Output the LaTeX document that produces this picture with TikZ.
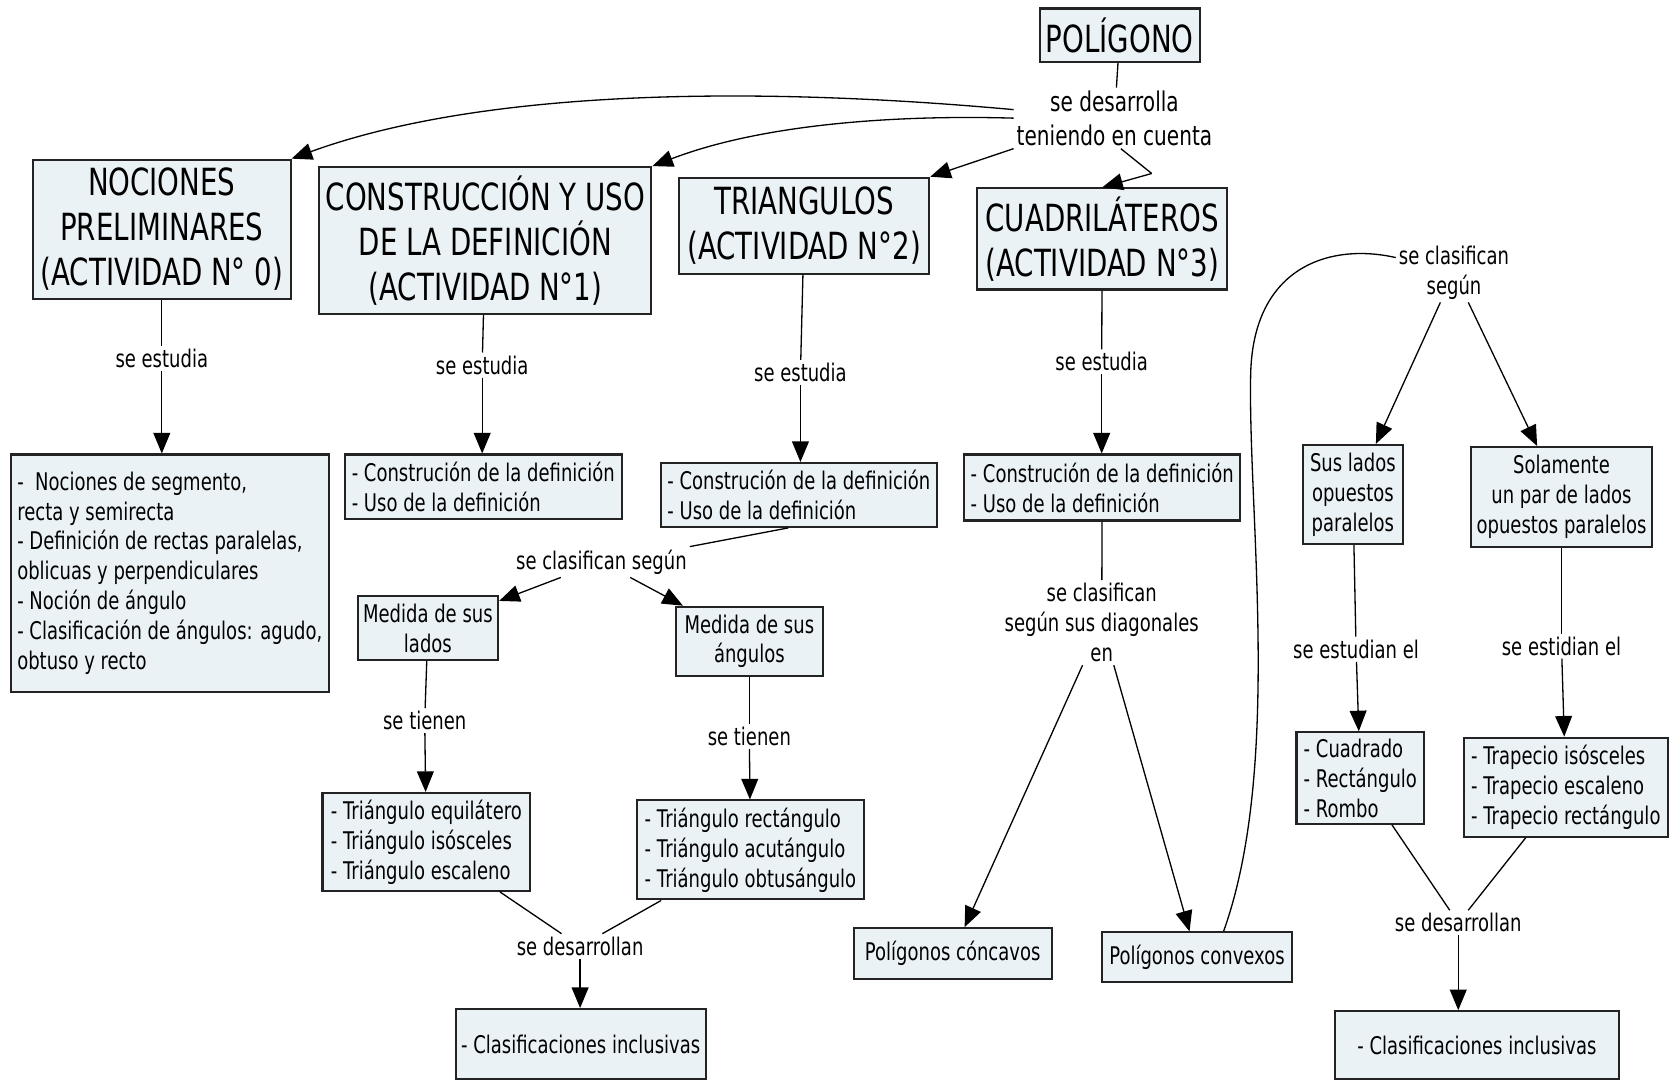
\documentclass[tikz,border=0pt]{standalone}
\usepackage{fontspec}
\setmainfont{DejaVu Sans}[FakeStretch=0.74]
\usetikzlibrary{arrows.meta,positioning,calc}
\definecolor{fondocaja}{RGB}{234,242,245}
\definecolor{borde}{RGB}{35,35,35}
\tikzset{
    caja/.style={draw=borde,fill=fondocaja,line width=1.1pt,inner sep=2pt,align=center,font=\fontsize{13}{16}\selectfont},
    cajalista/.style={caja,align=left},
    titulo/.style={caja,font=\fontsize{20}{24}\selectfont},
    enlace/.style={inner sep=1.5pt,align=center,font=\fontsize{13}{16}\selectfont},
    linea/.style={-,line width=0.7pt},
    flecha/.style={-{Triangle[length=11pt,width=9pt]},line width=0.7pt},
}

\begin{document}
\begin{tikzpicture}
        \useasboundingbox (0,0) rectangle (31.36,20.28);
% Titulo
        \node[titulo,minimum width=3cm,minimum height=1cm] (pol) at (21.04,19.62) {POLÍGONO};
        \node[enlace,font=\fontsize{14.5}{18}\selectfont] (desa) at (20.94,18.06) {se desarrolla\\teniendo en cuenta};
% --- Actividades ---
        \node[titulo,minimum width=4.84cm,minimum height=2.62cm] (noc) at (3.04,15.97) {NOCIONES\\PRELIMINARES\\(ACTIVIDAD N° 0)};
        \node[titulo,minimum width=6.24cm,minimum height=2.76cm] (con) at (9.12,15.76) {CONSTRUCCIÓN Y USO\\DE LA DEFINICIÓN\\(ACTIVIDAD N°1)};
        \node[titulo,minimum width=4.7cm,minimum height=1.8cm] (tri) at (15.11,16.04) {TRIANGULOS\\(ACTIVIDAD N°2)};
        \node[titulo,minimum width=4.7cm,minimum height=1.9cm] (cua) at (20.71,15.79) {CUADRILÁTEROS\\(ACTIVIDAD N°3)};
% se estudia
        \node[enlace] (est0) at (3.04,13.54) {se estudia};
        \node[enlace] (est1) at (9.06,13.42) {se estudia};
        \node[enlace] (est2) at (15.04,13.28) {se estudia};
        \node[enlace] (est3) at (20.7,13.48) {se estudia};
% --- Contenidos ---
        \node[cajalista,minimum width=5.98cm,minimum height=4.46cm] (lis) at (3.19,9.51) {-~ Nociones de segmento,\\recta y semirecta\\- Definición de rectas paralelas,\\oblicuas y perpendiculares\\- Noción de ángulo\\- Clasificación de ángulos: agudo,\\obtuso y recto};
        \node[cajalista,minimum width=5.2cm,minimum height=1.22cm] (def1) at (9.08,11.13) {- Construción de la definición\\- Uso de la definición};
        \node[cajalista,minimum width=5.18cm,minimum height=1.2cm] (def2) at (15.01,10.98) {- Construción de la definición\\- Uso de la definición};
        \node[cajalista,minimum width=5.18cm,minimum height=1.24cm] (def3) at (20.71,11.12) {- Construción de la definición\\- Uso de la definición};
% --- Triangulos ---
        \node[enlace] (cls1) at (11.3,9.72) {se clasifican según};
        \node[caja,minimum width=2.64cm,minimum height=1.2cm] (lad) at (8.04,8.48) {Medida de sus\\lados};
        \node[caja,minimum width=2.76cm,minimum height=1.3cm] (ang) at (14.08,8.23) {Medida de sus\\ángulos};
        \node[enlace] (ten1) at (7.98,6.74) {se tienen};
        \node[enlace] (ten2) at (14.08,6.44) {se tienen};
        \node[cajalista,minimum width=3.9cm,minimum height=1.84cm] (tr1) at (8.01,4.46) {- Triángulo equilátero\\- Triángulo isósceles\\- Triángulo escaleno};
        \node[cajalista,minimum width=4.28cm,minimum height=1.86cm] (tr2) at (14.1,4.31) {- Triángulo rectángulo\\- Triángulo acutángulo\\- Triángulo obtusángulo};
        \node[enlace] (des1) at (10.9,2.5) {se desarrollan};
        \node[caja,minimum width=4.7cm,minimum height=1.32cm] (cl1) at (10.91,0.66) {- Clasificaciones inclusivas};
% --- Cuadrilateros ---
        \node[enlace] (dia) at (20.7,8.58) {se clasifican\\según sus diagonales\\en};
        \node[caja,minimum width=3.72cm,minimum height=0.96cm] (cnc) at (17.9,2.36) {Polígonos cóncavos};
        \node[caja,minimum width=3.58cm,minimum height=0.94cm] (cnv) at (22.49,2.29) {Polígonos convexos};
        \node[enlace] (cls2) at (27.32,15.16) {se clasifican\\según};
        \node[caja,minimum width=1.88cm,minimum height=1.86cm] (sus) at (25.42,10.99) {Sus lados\\opuestos\\paralelos};
        \node[caja,minimum width=3.4cm,minimum height=1.88cm] (sol) at (29.34,10.94) {Solamente\\un par de lados\\opuestos paralelos};
        \node[enlace] (estu) at (25.48,8.08) {se estudian el};
        \node[enlace] (esti) at (29.34,8.14) {se estidian el};
        \node[cajalista,minimum width=2.4cm,minimum height=1.72cm] (cdr) at (25.56,5.66) {- Cuadrado\\- Rectángulo\\- Rombo};
        \node[cajalista,minimum width=3.84cm,minimum height=1.86cm] (trp) at (29.42,5.49) {- Trapecio isósceles\\- Trapecio escaleno\\- Trapecio rectángulo};
        \node[enlace] (des2) at (27.4,2.94) {se desarrollan};
        \node[caja,minimum width=5.34cm,minimum height=1.28cm] (cl2) at (27.75,0.64) {- Clasificaciones inclusivas};
% --- Conectores desde el titulo ---
        \draw[linea] (pol) -- (desa);
        \draw[flecha] ([yshift=0.16cm]desa.west) .. controls (14.0,18.68) and (9.0,18.58) .. (noc.north east);
        \draw[flecha] (desa.west) .. controls (17.0,18.12) and (14.4,17.98) .. (con.north east);
        \draw[flecha] (desa.south west) -- (tri.north east);
        \coordinate (quiebre) at (21.64,17.02);
        \draw[linea] ([xshift=0.12cm]desa.south) -- (quiebre);
        \draw[flecha] (quiebre) -- (cua.north);
% se estudia
        \draw[linea] (noc) -- (est0);
        \draw[flecha] (est0) -- (est0 |- lis.north);
        \draw[linea] (con) -- (est1);
        \draw[flecha] (est1) -- (est1 |- def1.north);
        \draw[linea] (tri) -- (est2);
        \draw[flecha] (est2) -- (est2 |- def2.north);
        \draw[linea] (cua) -- (est3);
        \draw[flecha] (est3) -- (est3 |- def3.north);
% triangulos
        \draw[linea] ([xshift=-0.2cm]def2.south) -- (cls1.north east);
        \draw[flecha] (cls1) -- (lad);
        \draw[flecha] (cls1) -- (ang);
        \draw[linea] (lad) -- (ten1);
        \draw[flecha] (ten1) -- (tr1);
        \draw[linea] (ang) -- (ten2);
        \draw[flecha] (ten2) -- (tr2);
        \draw[linea] (tr1) -- (des1);
        \draw[linea] (tr2) -- (des1);
        \draw[flecha] (des1) -- (des1 |- cl1.north);
% cuadrilateros
        \draw[linea] (def3) -- (dia);
        \draw[flecha] (dia) -- (cnc);
        \draw[flecha] (dia) -- (cnv);
        \draw[linea] ([xshift=0.5cm]cnv.north) .. controls (24.1,5.88) and (23.44,10.68) .. (23.5,13.28)
                .. controls (23.56,15.28) and (25.0,15.72) .. ([yshift=0.28cm]cls2.west);
        \draw[flecha] (cls2) -- (sus);
        \draw[flecha] (cls2) -- (sol);
        \draw[linea] (sus) -- (estu);
        \draw[flecha] (estu) -- (cdr);
        \draw[linea] (sol) -- (esti);
        \draw[flecha] (esti) -- (trp);
        \draw[linea] (cdr) -- (des2);
        \draw[linea] (trp) -- (des2);
        \draw[flecha] (des2) -- (des2 |- cl2.north);
\end{tikzpicture}
\end{document}
